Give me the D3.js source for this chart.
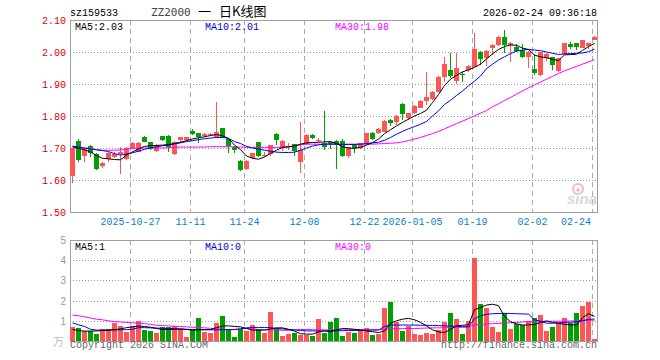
<!DOCTYPE html>
<html>
<head>
<meta charset="utf-8">
<script src="https://cdn.jsdelivr.net/npm/d3@7"></script>
<style>
body { margin: 0; background: #fff; }
svg { display: block; }
.mono { font-family: "Liberation Mono", "DejaVu Sans Mono", monospace; font-size: 10px; }
</style>
</head>
<body>
<svg id="chart" width="660" height="360"></svg>
<script>
// daily candles, 88 trading days (2025-10-13 .. 2026-02-24)
var opens = [1.610,1.722,1.673,1.706,1.681,1.642,1.663,1.673,1.680,1.668,
    1.699,1.689,1.735,1.718,1.691,1.737,1.739,1.681,1.723,1.725,
    1.752,1.746,1.738,1.740,1.733,1.762,1.727,1.704,1.659,1.634,
    1.668,1.718,1.677,1.679,1.744,1.699,1.706,1.712,1.657,1.712,
    1.741,1.725,1.715,1.720,1.722,1.722,1.673,1.709,1.699,1.715,
    1.748,1.746,1.751,1.788,1.782,1.838,1.793,1.808,1.826,1.847,
    1.853,1.876,1.923,1.944,1.909,1.930,1.944,1.954,2.001,1.980,
    2.013,2.022,2.046,2.020,2.017,2.006,1.985,1.947,1.926,1.980,
    1.983,1.938,1.994,2.025,2.027,2.013,2.017,2.038]
var closes = [1.699,1.662,1.699,1.685,1.634,1.652,1.683,1.682,1.686,1.701,
    1.717,1.717,1.720,1.696,1.709,1.725,1.704,1.720,1.733,1.733,
    1.744,1.733,1.744,1.743,1.750,1.733,1.706,1.694,1.631,1.659,
    1.683,1.675,1.678,1.708,1.725,1.722,1.707,1.691,1.694,1.741,
    1.732,1.726,1.704,1.715,1.709,1.676,1.702,1.699,1.715,1.746,
    1.730,1.760,1.784,1.780,1.801,1.808,1.808,1.831,1.847,1.860,
    1.876,1.923,1.963,1.926,1.951,1.926,1.957,2.009,1.980,2.003,
    2.022,2.048,2.020,2.027,2.006,1.985,2.001,1.933,1.999,1.994,
    1.957,1.980,2.027,2.017,2.013,2.037,2.027,2.046]
var highs = [1.701,1.728,1.701,1.708,1.685,1.657,1.689,1.686,1.704,1.703,
    1.719,1.719,1.737,1.720,1.711,1.739,1.741,1.722,1.735,1.735,
    1.758,1.748,1.746,1.746,1.845,1.764,1.729,1.706,1.661,1.661,
    1.685,1.720,1.689,1.710,1.746,1.724,1.717,1.714,1.782,1.743,
    1.745,1.731,1.817,1.722,1.724,1.727,1.704,1.714,1.717,1.748,
    1.751,1.762,1.786,1.792,1.803,1.840,1.810,1.834,1.849,1.938,
    1.878,1.925,1.983,1.998,1.998,1.938,1.959,2.058,2.003,2.005,
    2.024,2.050,2.069,2.030,2.024,2.024,2.003,1.993,2.001,1.996,
    1.985,1.982,2.029,2.030,2.029,2.039,2.029,2.051]
var lows = [1.590,1.657,1.657,1.673,1.631,1.636,1.657,1.668,1.619,1.664,
    1.696,1.686,1.718,1.693,1.688,1.722,1.689,1.678,1.720,1.722,
    1.741,1.715,1.735,1.737,1.730,1.730,1.685,1.683,1.628,1.631,
    1.665,1.672,1.671,1.676,1.709,1.692,1.694,1.676,1.623,1.710,
    1.727,1.720,1.694,1.697,1.634,1.673,1.668,1.683,1.697,1.713,
    1.725,1.744,1.749,1.769,1.772,1.788,1.786,1.806,1.824,1.833,
    1.851,1.874,1.907,1.918,1.899,1.907,1.936,1.952,1.959,1.955,
    1.992,2.020,1.996,1.970,2.001,1.980,1.951,1.929,1.924,1.972,
    1.943,1.936,1.992,2.008,2.005,2.011,2.010,2.036]

// moving averages of the price
var ma5 = [1.704,1.699,1.694,1.688,1.676,1.668,1.666,1.664,1.663,1.678,
    1.688,1.697,1.705,1.707,1.708,1.709,1.711,1.714,1.718,1.723,
    1.728,1.732,1.735,1.739,1.742,1.738,1.730,1.709,1.695,1.675,
    1.668,1.665,1.672,1.683,1.693,1.702,1.704,1.706,1.712,1.716,
    1.717,1.718,1.719,1.720,1.714,1.704,1.700,1.699,1.702,1.709,
    1.717,1.728,1.745,1.757,1.769,1.780,1.790,1.800,1.808,1.818,
    1.842,1.867,1.895,1.915,1.927,1.938,1.944,1.952,1.962,1.978,
    1.994,2.008,2.017,2.022,2.021,2.012,2.008,1.990,1.985,1.982,
    1.977,1.973,1.991,1.992,1.993,2.005,2.017,2.027]
var ma10 = [1.706,1.703,1.700,1.697,1.694,1.692,1.689,1.682,1.678,1.681,
    1.685,1.690,1.696,1.700,1.704,1.707,1.709,1.713,1.716,1.720,
    1.723,1.726,1.729,1.731,1.733,1.733,1.730,1.720,1.714,1.705,
    1.700,1.697,1.693,1.690,1.687,1.686,1.686,1.687,1.693,1.700,
    1.706,1.710,1.712,1.712,1.712,1.711,1.711,1.711,1.712,1.714,
    1.716,1.718,1.724,1.733,1.743,1.752,1.760,1.767,1.774,1.783,
    1.800,1.816,1.836,1.849,1.864,1.878,1.894,1.909,1.925,1.948,
    1.962,1.975,1.985,1.995,2.003,2.006,2.008,2.006,2.004,2.000,
    1.996,1.992,1.994,1.995,1.996,1.997,2.001,2.009]
var ma30 = [1.700,1.700,1.700,1.699,1.695,1.693,1.693,1.693,1.694,1.697,
    1.699,1.699,1.700,1.700,1.700,1.700,1.701,1.702,1.703,1.703,
    1.703,1.703,1.703,1.704,1.704,1.704,1.704,1.703,1.703,1.702,
    1.702,1.702,1.702,1.702,1.702,1.702,1.703,1.706,1.710,1.712,
    1.712,1.712,1.712,1.712,1.712,1.712,1.712,1.712,1.712,1.712,
    1.712,1.713,1.714,1.715,1.716,1.719,1.723,1.728,1.733,1.739,
    1.745,1.752,1.760,1.768,1.776,1.784,1.792,1.800,1.809,1.817,
    1.829,1.838,1.848,1.858,1.868,1.878,1.888,1.897,1.906,1.915,
    1.924,1.933,1.941,1.948,1.955,1.962,1.969,1.976]

// volume, in 万
var volumes = [0.70,0.62,0.49,0.49,0.34,0.59,0.59,0.89,0.75,0.45,
    0.75,1.00,0.54,0.49,0.42,0.69,0.69,0.75,0.57,0.20,
    0.54,1.15,0.45,0.40,0.90,1.25,0.59,0.20,0.59,0.49,
    0.79,0.59,0.40,1.44,0.59,0.25,0.34,0.42,0.32,0.32,
    0.24,1.09,0.40,0.94,1.13,0.24,0.44,0.39,0.54,0.62,
    0.29,0.34,1.64,1.94,0.94,0.49,0.75,0.34,0.29,0.40,
    0.34,0.54,0.94,1.39,1.09,0.34,1.00,4.09,1.84,1.64,
    0.69,0.44,1.39,0.59,0.84,0.79,1.00,1.13,1.29,0.49,
    0.70,0.89,1.13,0.89,1.39,1.75,1.94,0.09]
var volMa5 = [0.57,0.52,0.49,0.49,0.50,0.52,0.54,0.56,0.60,0.66,
    0.70,0.74,0.72,0.68,0.62,0.57,0.57,0.58,0.59,0.57,
    0.54,0.55,0.56,0.57,0.66,0.74,0.75,0.72,0.70,0.62,
    0.54,0.54,0.54,0.60,0.65,0.65,0.58,0.49,0.36,0.34,
    0.34,0.45,0.50,0.46,0.55,0.62,0.61,0.58,0.55,0.50,
    0.46,0.42,0.50,0.88,1.00,1.08,1.12,1.05,0.92,0.75,
    0.55,0.45,0.42,0.58,0.75,0.78,0.80,1.55,1.66,1.78,
    1.82,1.75,1.22,0.95,0.85,0.79,0.80,0.82,0.92,0.99,
    0.92,0.88,0.82,0.80,0.79,1.15,1.35,1.22]
var volMa10 = [0.90,0.80,0.72,0.58,0.54,0.54,0.54,0.55,0.56,0.56,
    0.58,0.66,0.66,0.65,0.64,0.63,0.62,0.61,0.60,0.58,
    0.57,0.57,0.56,0.55,0.55,0.56,0.56,0.57,0.60,0.65,
    0.67,0.67,0.67,0.66,0.62,0.60,0.57,0.55,0.52,0.50,
    0.50,0.50,0.50,0.50,0.51,0.51,0.52,0.52,0.53,0.53,
    0.54,0.54,0.72,0.79,0.79,0.79,0.79,0.79,0.78,0.78,
    0.77,0.76,0.75,0.74,0.72,0.71,0.70,1.10,1.25,1.32,
    1.35,1.36,1.37,1.36,1.35,1.34,1.33,1.05,0.98,0.88,
    0.88,0.90,0.92,0.93,0.95,1.00,1.07,1.09]
var volMa30 = [1.28,1.25,1.20,1.14,1.08,1.05,1.00,0.96,0.94,0.92,
    0.90,0.88,0.86,0.82,0.78,0.76,0.75,0.73,0.72,0.70,
    0.68,0.67,0.65,0.63,0.60,0.58,0.55,0.57,0.60,0.63,
    0.60,0.57,0.55,0.55,0.54,0.53,0.53,0.55,0.57,0.57,
    0.56,0.55,0.55,0.54,0.55,0.55,0.56,0.56,0.56,0.56,
    0.56,0.56,0.58,0.60,0.61,0.61,0.62,0.62,0.63,0.64,
    0.65,0.65,0.66,0.67,0.68,0.68,0.70,0.80,0.82,0.84,
    0.86,0.87,0.89,0.90,0.92,0.94,0.96,0.98,0.98,0.98,
    0.98,0.98,0.98,0.99,1.00,1.02,1.03,1.03]

// axis ticks
var tickIndex = [10, 20, 29, 39, 49, 57, 67, 77, 87]
var tickLabels = ["2025-10-27", "11-11", "11-24", "12-08", "12-22", "2026-01-05", "01-19", "02-02", "02-24"]
var priceTicks = [1.50, 1.60, 1.70, 1.80, 1.90, 2.00, 2.10]
var volTicks = [1, 2, 3, 4, 5]

var colours = {up: "#ff5555", down: "#00a000", ma5: "#000000", ma10: "#0000ff", ma30: "#ff00ff",
    border: "#a0a0a0", grid: "#aaaaaa"}

var svg = d3.select("#chart")
var left = 70, right = 597

// scales
var x = d3.scaleLinear().domain([0, 88]).range([70, 598])
var y = d3.scaleLinear().domain([1.5, 2.1]).range([212, 20])
var yVol = d3.scaleLinear().domain([0, 5]).range([341, 240])

// header
svg.append("text").attr("class", "mono").attr("x", 70).attr("y", 16).text("sz159533")
svg.append("text").attr("x", 151).attr("y", 16)
    .style("font-family", "'DejaVu Sans Mono', monospace").style("font-size", "11px")
    .attr("fill", "#444").text("ZZ2000")
svg.append("text").attr("x", 198).attr("y", 16)
    .style("font-family", "'Noto Sans CJK SC', sans-serif").style("font-size", "13px")
    .text("一")
svg.append("text").attr("x", 219).attr("y", 16)
    .style("font-family", "'Noto Sans CJK SC', sans-serif").style("font-size", "13px")
    .text("日K线图")
svg.append("text").attr("class", "mono").attr("x", 597).attr("y", 16)
    .attr("text-anchor", "end").text("2026-02-24 09:36:18")

// draw one panel frame with grids
function drawFrame(top, bottom, yScale, dotted) {
    dotted.forEach(function(t) {
        svg.append("line")
            .attr("x1", left).attr("x2", right)
            .attr("y1", Math.round(yScale(t)) + 0.5).attr("y2", Math.round(yScale(t)) + 0.5)
            .attr("stroke", "#999").attr("stroke-dasharray", "1,2")
    })
    tickIndex.forEach(function(i) {
        svg.append("line")
            .attr("x1", x(i) + 0.5).attr("x2", x(i) + 0.5)
            .attr("y1", top).attr("y2", bottom)
            .attr("stroke", colours.grid).attr("stroke-dasharray", "5,4")
    })
    svg.append("rect")
        .attr("x", left + 0.5).attr("y", top + 0.5)
        .attr("width", right - left).attr("height", bottom - top)
        .attr("fill", "none").attr("stroke", colours.border)
}

drawFrame(20, 212, y, priceTicks.slice(1, 6))
drawFrame(240, 341, yVol, volTicks.slice(0, 4))

// price labels
svg.selectAll(".plabel").data(priceTicks).enter().append("text")
    .attr("class", "mono")
    .attr("x", 66).attr("y", function(d) { return y(d) + 4 })
    .attr("text-anchor", "end").attr("fill", "#e00000")
    .text(function(d) { return d.toFixed(2) })

// volume labels
svg.selectAll(".vlabel").data(volTicks).enter().append("text")
    .attr("x", 66).attr("y", function(d) { return yVol(d) + 4 })
    .attr("text-anchor", "end").attr("fill", "#999")
    .style("font-family", "'Liberation Sans', Arial, sans-serif").style("font-size", "10px")
    .text(function(d) { return d })
svg.append("text").attr("x", 64).attr("y", 346).attr("text-anchor", "end")
    .attr("fill", "#bbb").style("font-family", "'Noto Sans CJK SC', sans-serif").style("font-size", "11px")
    .text("万")

// date labels
tickIndex.forEach(function(idx, k) {
    var last = k == tickIndex.length - 1
    svg.append("text").attr("class", "mono")
        .attr("x", last ? x(idx) - 1 : x(idx) + 0.5).attr("y", 225)
        .attr("text-anchor", last ? "end" : "middle")
        .attr("fill", "#0a80d0")
        .text(tickLabels[k])
})

// sina watermark
svg.append("circle").attr("cx", 578).attr("cy", 189).attr("r", 5)
    .attr("fill", "none").attr("stroke", "#f4b8b8").attr("stroke-width", 2)
svg.append("circle").attr("cx", 578).attr("cy", 190).attr("r", 1.8).attr("fill", "#f4b8b8")
svg.append("text").attr("x", 567).attr("y", 204)
    .style("font-family", "'Liberation Sans', sans-serif").style("font-size", "15px")
    .style("font-weight", "bold").style("font-style", "italic")
    .attr("fill", "#d8d8d8").text("sina")

// candles
var idx = d3.range(opens.length)
function candleColour(i) { return closes[i] >= opens[i] ? colours.up : colours.down }

var candles = svg.append("g").attr("shape-rendering", "crispEdges")
candles.selectAll(".wick").data(idx).enter().append("line")
    .attr("x1", function(i) { return x(i) + 2.5 }).attr("x2", function(i) { return x(i) + 2.5 })
    .attr("y1", function(i) { return y(highs[i]) }).attr("y2", function(i) { return y(lows[i]) })
    .attr("stroke", candleColour)
candles.selectAll(".body").data(idx).enter().append("rect")
    .attr("x", function(i) { return x(i) })
    .attr("width", 5)
    .attr("y", function(i) { return Math.round(y(Math.max(opens[i], closes[i]))) })
    .attr("height", function(i) { return Math.max(1, Math.round(Math.abs(y(opens[i]) - y(closes[i])))) })
    .attr("fill", candleColour)

// volume bars
candles.selectAll(".vol").data(idx).enter().append("rect")
    .attr("x", function(i) { return x(i) })
    .attr("width", 5)
    .attr("y", function(i) { return Math.round(yVol(volumes[i])) })
    .attr("height", function(i) { return 341 - Math.round(yVol(volumes[i])) })
    .attr("fill", candleColour)

// moving average lines
function maLine(values, scale, colour) {
    var line = d3.line()
        .x(function(d, i) { return x(i) + 2.5 })
        .y(function(d) { return scale(d) })
    svg.append("path").datum(values)
        .attr("d", line).attr("fill", "none")
        .attr("stroke", colour).attr("stroke-width", 1)
}
maLine(ma30, y, colours.ma30)
maLine(ma10, y, colours.ma10)
maLine(ma5, y, colours.ma5)
maLine(volMa30, yVol, colours.ma30)
maLine(volMa10, yVol, colours.ma10)
maLine(volMa5, yVol, colours.ma5)

// legends
function legend(yPos, texts) {
    var xs = [75, 205, 335]
    var cols = [colours.ma5, "#0000cc", colours.ma30]
    texts.forEach(function(t, k) {
        svg.append("text").attr("class", "mono")
            .attr("x", xs[k]).attr("y", yPos).attr("fill", cols[k]).text(t)
    })
}
legend(30, ["MA5:" + ma5[87].toFixed(2), "MA10:" + ma10[87].toFixed(2), "MA30:" + ma30[87].toFixed(2)])
legend(250, ["MA5:1", "MA10:0", "MA30:0"])

// footer
svg.append("text").attr("class", "mono").attr("x", 70).attr("y", 348)
    .attr("fill", "#666").text("Copyright 2026 SINA.COM")
svg.append("text").attr("class", "mono").attr("x", 597).attr("y", 348)
    .attr("text-anchor", "end").attr("fill", "#666").text("http://finance.sina.com.cn")
</script>
</body>
</html>
